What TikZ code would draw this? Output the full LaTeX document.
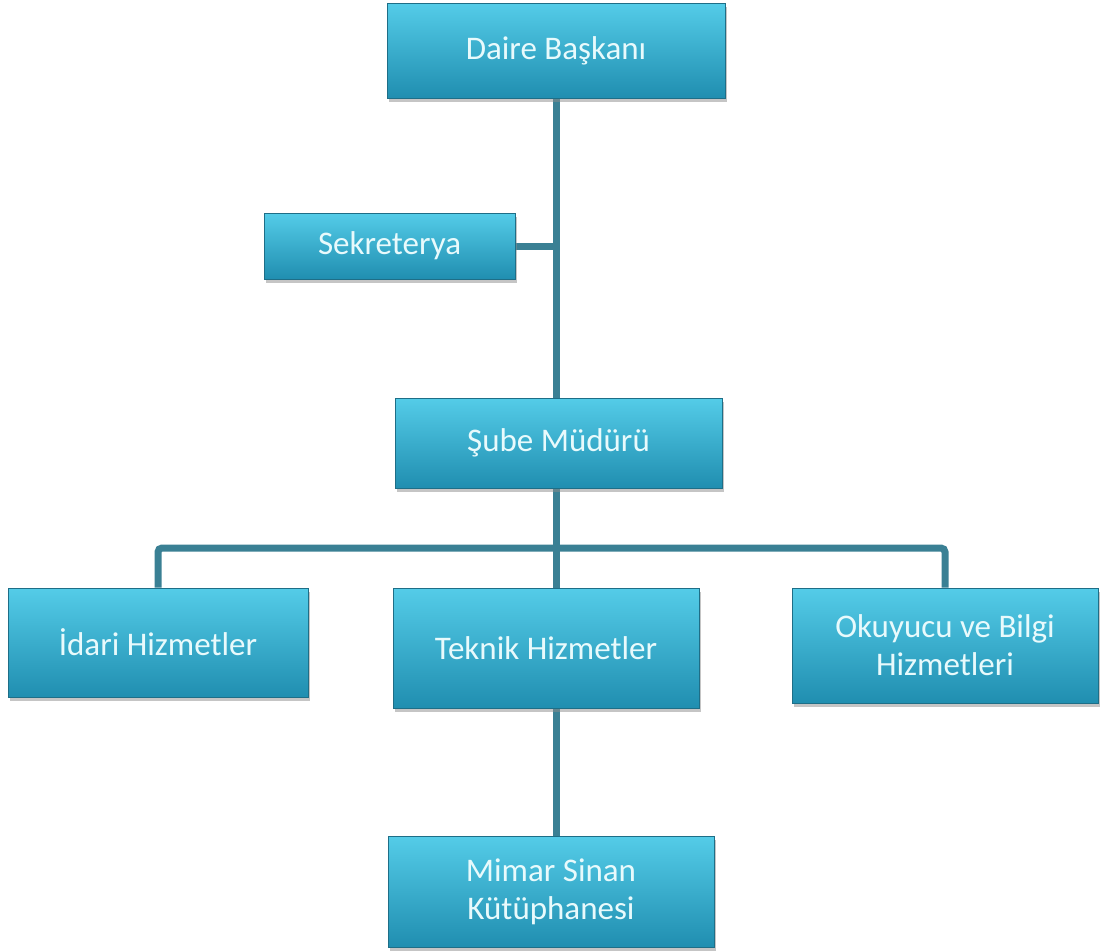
\documentclass[tikz,border=0pt]{standalone}
\usepackage{fontspec}
\setmainfont{Carlito}
\usetikzlibrary{shadows,calc,backgrounds}
\definecolor{linec}{RGB}{58,128,148}
\definecolor{boxtop}{RGB}{84,204,232}
\definecolor{boxmid}{RGB}{43,176,210}
\definecolor{boxbot}{RGB}{32,142,176}
\definecolor{boxedge}{RGB}{30,110,135}
\definecolor{txtc}{RGB}{232,250,252}
\tikzset{
  orgbox/.style={rectangle, draw=boxedge, line width=0.8pt, top color=boxtop, middle color=boxmid, bottom color=boxbot,
    drop shadow={shadow xshift=2pt, shadow yshift=-4pt, fill=black!45, opacity=0.5},
    text=txtc, font=\fontsize{33}{38}\selectfont, align=center, inner sep=0pt},
  conn/.style={draw=linec, line width=7pt, rounded corners=4pt}
}
\begin{document}
\begin{tikzpicture}[x=1pt,y=-1pt]
\useasboundingbox (0,0) rectangle (1105,951);
\node[orgbox, minimum width=338pt, minimum height=95pt] (daire) at (556,50.5) {Daire Başkanı};
\node[orgbox, minimum width=251pt, minimum height=66pt] (sek) at (389.5,246) {Sekreterya};
\node[orgbox, minimum width=327pt, minimum height=90pt] (sube) at (558.5,443) {Şube Müdürü};
\node[orgbox, minimum width=300pt, minimum height=109pt] (idari) at (158,642.5) {İdari Hizmetler};
\node[orgbox, minimum width=306pt, minimum height=120pt] (teknik) at (546,648) {Teknik Hizmetler};
\node[orgbox, minimum width=306pt, minimum height=115pt] (okuy) at (945,645.5) {Okuyucu ve Bilgi\\Hizmetleri};
\node[orgbox, minimum width=326pt, minimum height=111pt] (mimar) at (551,891.5) {Mimar Sinan\\Kütüphanesi};
\begin{scope}[on background layer]
\coordinate (bar) at (556,548);
\coordinate (sekj) at (556,246);
\draw[conn] (daire.south -| bar) -- (sube.north -| bar);
\draw[conn] (sek.east) -- (sekj);
\draw[conn] (sube.south -| bar) -- (bar);
\draw[conn] (idari.north) -- (idari.north |- bar) -- (okuy.north |- bar) -- (okuy.north);
\draw[conn] (bar) -- (teknik.north -| bar);
\draw[conn] (teknik.south -| bar) -- (mimar.north -| bar);
\end{scope}
\end{tikzpicture}
\end{document}
